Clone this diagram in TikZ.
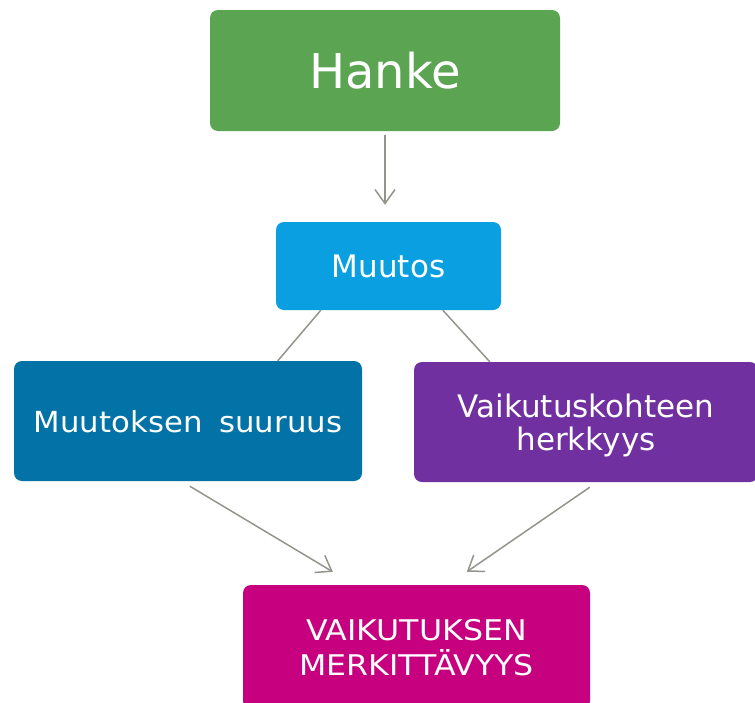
\documentclass[tikz,border=0pt]{standalone}
\usepackage{fontspec}
\setmainfont{DejaVu Sans}
\usetikzlibrary{arrows.meta,calc}
\definecolor{hgreen}{HTML}{5BA452}
\definecolor{mblue}{HTML}{0A9FE0}
\definecolor{dblue}{HTML}{0373A7}
\definecolor{vpurple}{HTML}{7030A0}
\definecolor{mmag}{HTML}{C6007E}
\definecolor{lgray}{HTML}{94948C}
\tikzset{
  box/.style={rounded corners=8pt, text=white, align=center, inner sep=0pt, text depth=0pt},
  conn/.style={draw=lgray, line width=1.5pt},
  arr/.style={conn, -{Straight Barb[length=14pt,width=20pt,line width=1.5pt]}},
}
\begin{document}
\begin{tikzpicture}[x=1pt,y=-1pt]
\useasboundingbox (0,0) rectangle (755,702);
\fill[white] (0,0) rectangle (755,702);
\clip (0,0) rectangle (755,702);
\node[box, fill=hgreen, minimum width=350pt, minimum height=121pt, font=\fontsize{48}{56}\selectfont] (hanke) at (385,70.5) {Hanke};
\node[box, fill=mblue, minimum width=225pt, minimum height=88pt, font=\fontsize{31}{36}\selectfont] (muutos) at (388.5,266) {Muutos};
\node[box, fill=dblue, minimum width=348pt, minimum height=120pt, font=\fontsize{29}{32}\selectfont] (suuruus) at (188,421) {\scalebox{1.06}[1]{Muutoksen\hspace{0.55em}suuruus}};
\node[box, fill=vpurple, minimum width=344pt, minimum height=120pt, font=\fontsize{31}{33}\selectfont] (herkkyys) at (586,422) {Vaikutuskohteen\\herkkyys};
\node[box, fill=mmag, minimum width=347pt, minimum height=124pt, font=\fontsize{28.5}{35}\selectfont] (merk) at (416.5,647) {\scalebox{1.11}[1]{VAIKUTUKSEN}\\\scalebox{1.11}[1]{MERKITTÄVYYS}};
% connectors
\draw[arr] ([yshift=-4pt]hanke.south) -- ([yshift=17pt]hanke.south |- muutos.north);
\draw[conn] ($(muutos.south west)+(45,0)$) -- ($(suuruus.north west)+(264,0)$);
\draw[conn] ($(muutos.south west)+(167,0)$) -- ($(herkkyys.north west)+(76,0)$);
\draw[arr] ($(suuruus.south west)+(176,5)$) -- ($(merk.north west)+(90,-13)$);
\draw[arr] ($(herkkyys.south west)+(176,5)$) -- ($(merk.north west)+(224,-13)$);
\end{tikzpicture}
\end{document}
